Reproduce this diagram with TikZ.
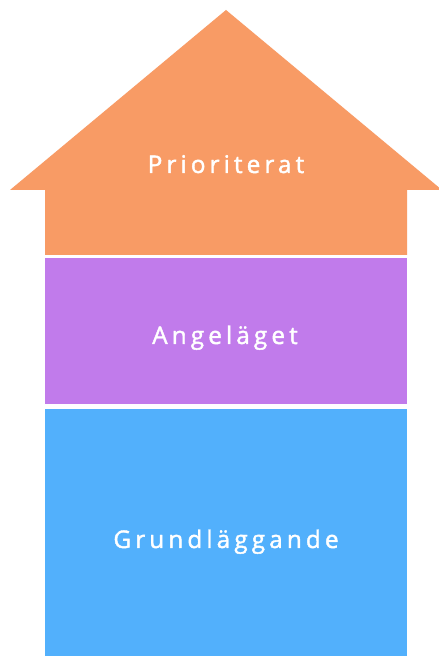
\documentclass[tikz,border=0pt]{standalone}
\usepackage{fontspec}
\newfontfamily\labfont[LetterSpace=17,FakeBold=1.7]{Open Sans}
\definecolor{roofc}{RGB}{248,155,101}
\definecolor{midc}{RGB}{193,123,235}
\definecolor{basec}{RGB}{82,176,252}
\begin{document}
\begin{tikzpicture}[x=1pt,y=1pt,
  lab/.style={text=white,font=\labfont\fontsize{24.3}{27}\selectfont,anchor=base,inner sep=0pt}]
\useasboundingbox (0,0) rectangle (439,656);
\clip (0,0) rectangle (439,656);
\fill[white] (0,0) rectangle (439,656);
\fill[roofc] (226,646) -- (442,466) -- (407,466) -- (407,401) -- (45,401) -- (45,466) -- (10,466) -- cycle;
\fill[midc] (45,252) rectangle (407,398);
\fill[basec] (45,0) rectangle (407,247);
\node[lab] (prio) at (226,483) {Prioriterat};
\node[lab] (ang) at (225,312) {Angeläget};
\node[lab] (grund) at (226,108) {Grundläggande};
\end{tikzpicture}
\end{document}
